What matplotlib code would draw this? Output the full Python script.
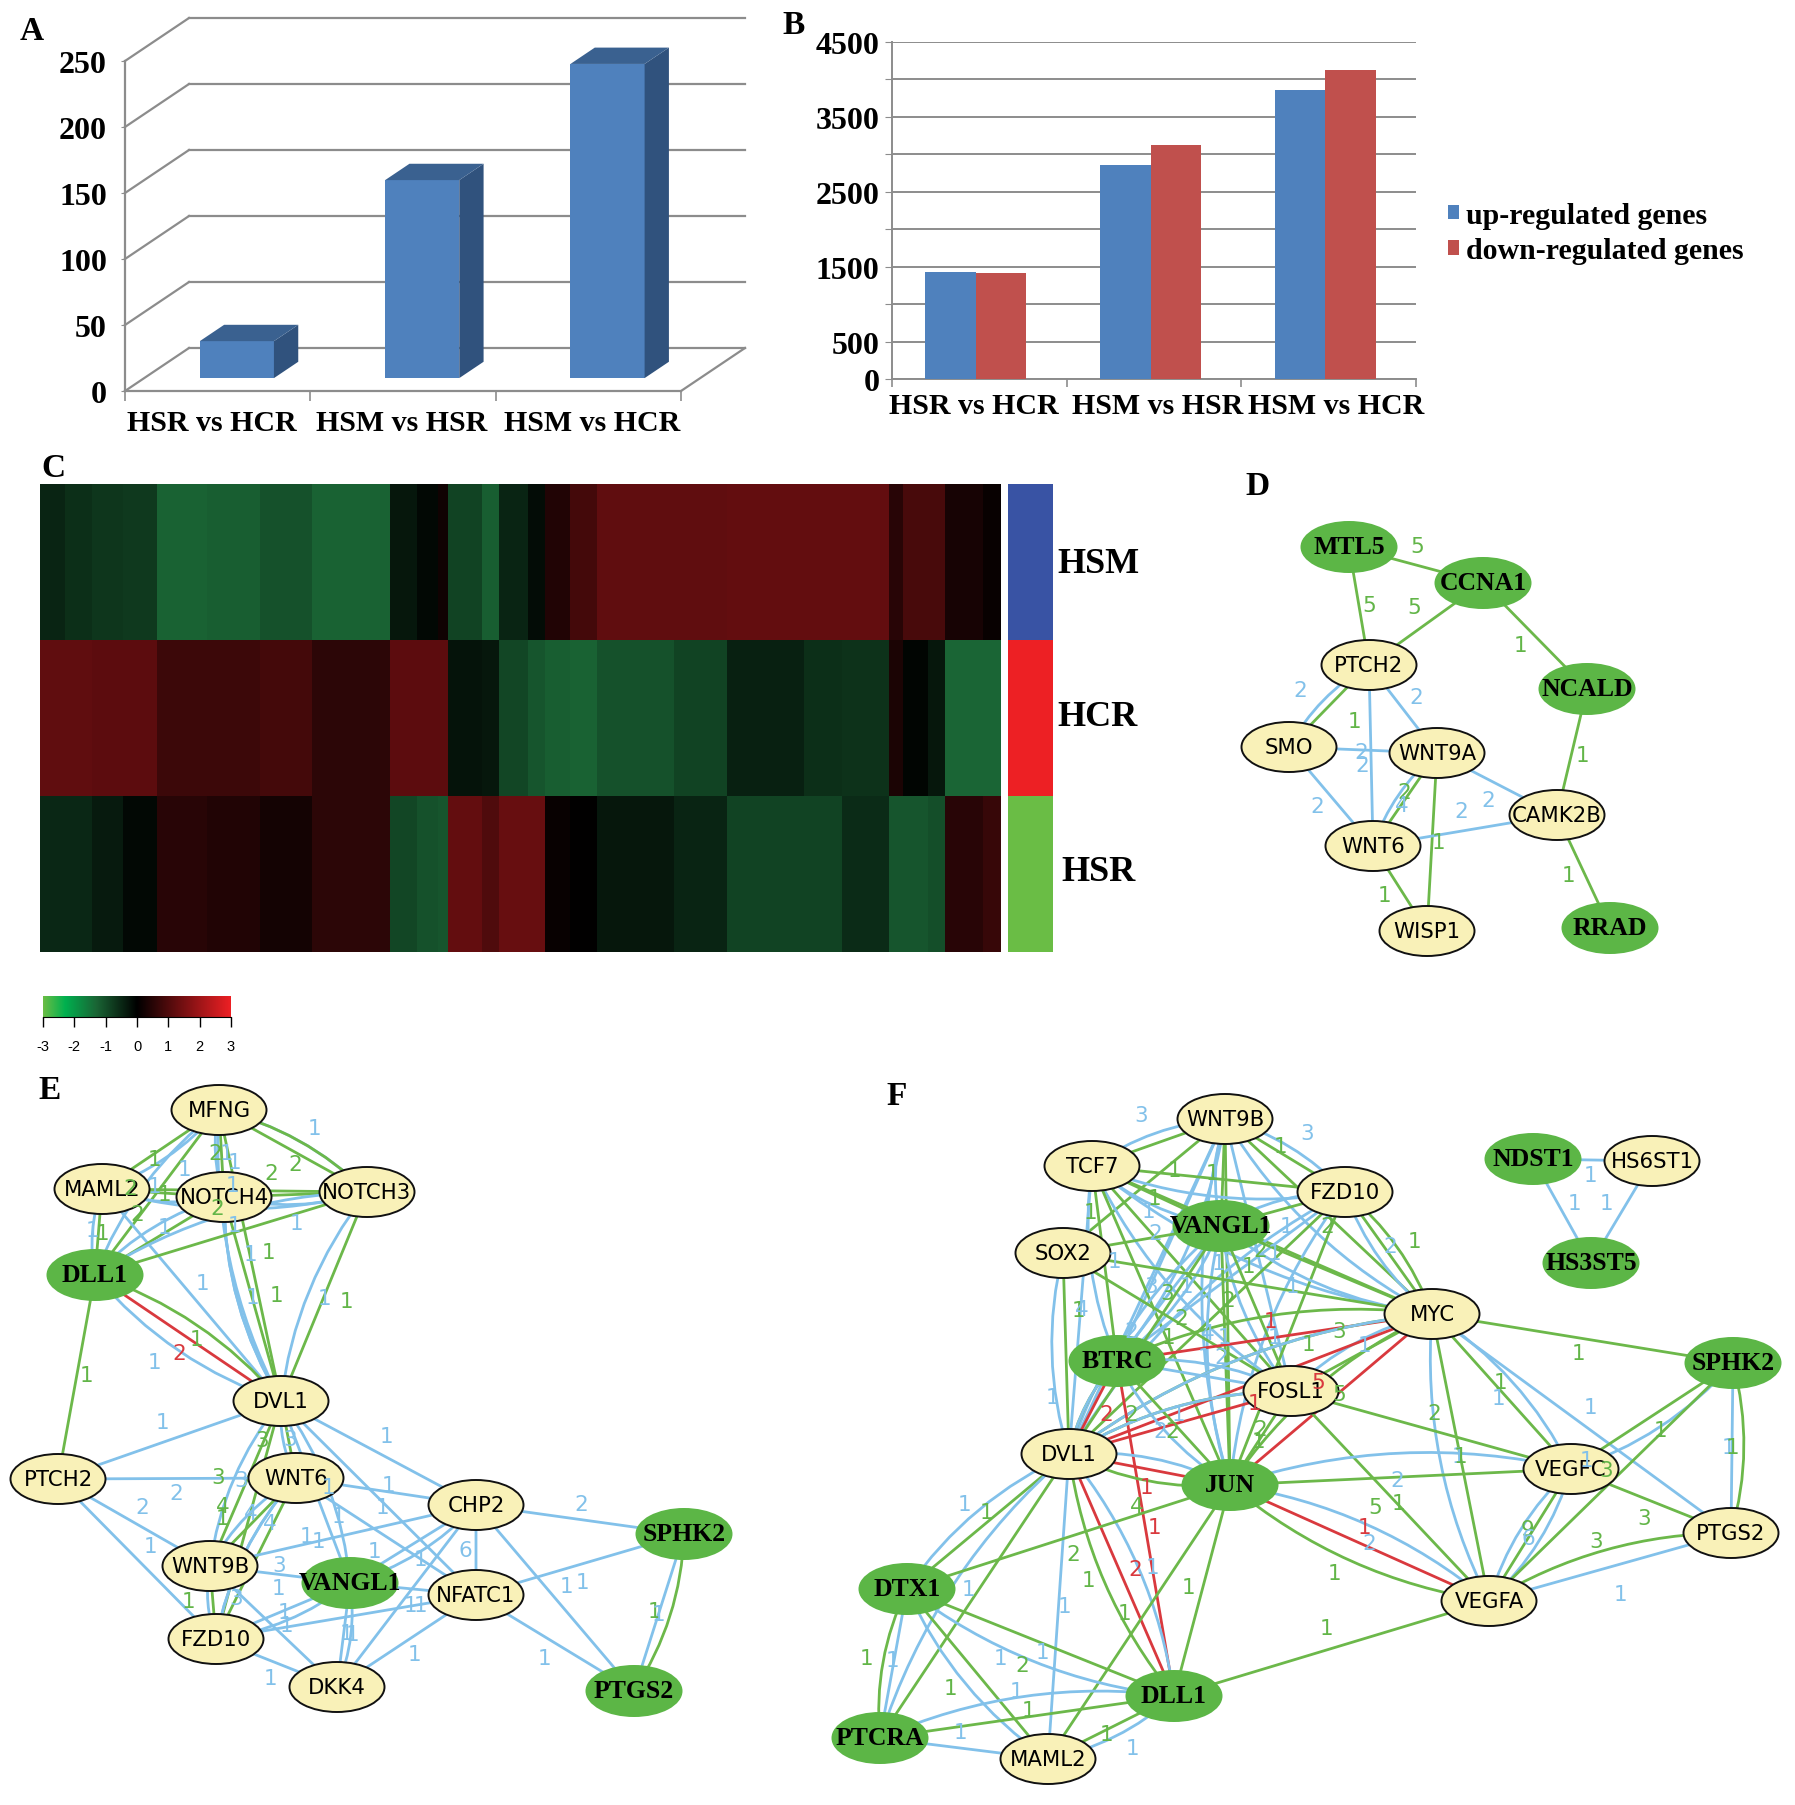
import matplotlib
matplotlib.use("Agg")
import matplotlib.pyplot as plt
import numpy as np
from matplotlib.colors import LinearSegmentedColormap
from matplotlib.patches import Ellipse, PathPatch, Polygon
from matplotlib.path import Path
from matplotlib.transforms import Affine2D, IdentityTransform

W, H = 1795, 1806
SERIF = "Liberation Serif"
plt.rcParams["axes.unicode_minus"] = False

# panel A / B
categories = ["HSR vs HCR", "HSM vs HSR", "HSM vs HCR"]
a_values = [28, 150, 238]
b_up = [1428, 2857, 3855]
b_down = [1413, 3118, 4132]

# panel C: one entry per stripe of the heat map
heat_widths = [33, 35, 40, 45, 65, 70, 68, 102, 35, 27, 13, 45, 22, 38, 22, 33, 35, 100, 70, 100, 50, 62, 18, 32, 23, 50, 23]
heat_hsm = [-0.45, -0.6, -0.7, -0.75, -1.25, -1.2, -1.05, -1.25, -0.3, -0.1, 0.2, -0.85, -1.2, -0.45, -0.15, 0.4, 0.85, 1.2, 1.2, 1.25, 1.25, 1.25, 0.5, 0.9, 0.9, 0.3, 0.1]
heat_hcr = [1.2, 1.2, 1.15, 1.15, 0.75, 0.75, 0.85, 0.55, 1.15, 1.15, 1.15, -0.25, -0.3, -0.9, -1.1, -1.2, -1.25, -1.05, -0.85, -0.4, -0.6, -0.65, 0.35, -0.05, -0.3, -1.3, -1.3]
heat_hsr = [-0.5, -0.5, -0.35, -0.1, 0.5, 0.4, 0.25, 0.55, -0.9, -1.05, -1.1, 1.25, 1.0, 1.3, 1.3, 0.1, 0.0, -0.3, -0.45, -0.85, -0.85, -0.55, -1.1, -1.1, -1.0, 0.5, 0.7]
heat_rows = ["HSM", "HCR", "HSR"]
row_colors = ["#3953a4", "#ed2024", "#6abd45"]

# networks: g = green, b = blue, r = red edge. A repeated pair is drawn bent.
d_edges = [("MTL5", "CCNA1", "g"), ("MTL5", "PTCH2", "g"), ("CCNA1", "PTCH2", "g"), ("CCNA1", "NCALD", "g"),
           ("NCALD", "CAMK2B", "g"), ("CAMK2B", "RRAD", "g"), ("PTCH2", "SMO", "g"), ("PTCH2", "SMO", "b"),
           ("PTCH2", "WNT9A", "b"), ("PTCH2", "WNT6", "b"), ("SMO", "WNT9A", "b"), ("SMO", "WNT6", "b"),
           ("WNT9A", "WNT6", "g"), ("WNT9A", "WNT6", "b"), ("WNT9A", "WISP1", "g"), ("WNT9A", "CAMK2B", "b"),
           ("WNT6", "CAMK2B", "b"), ("WNT6", "WISP1", "g")]
d_labels = [(1417, 546, "5", "g"), (1369, 605, "5", "g"), (1414, 607, "5", "g"), (1521, 645, "1", "g"),
            (1300, 690, "2", "b"), (1355, 721, "1", "g"), (1416, 697, "2", "b"), (1361, 752, "2", "b"),
            (1362, 765, "2", "b"), (1317, 806, "2", "b"), (1404, 792, "2", "g"), (1402, 805, "4", "b"),
            (1461, 811, "2", "b"), (1488, 800, "2", "b"), (1439, 842, "1", "g"), (1582, 755, "1", "g"),
            (1568, 875, "1", "g"), (1385, 895, "1", "g")]

e_edges = [("MFNG", "MAML2", "g"), ("MFNG", "NOTCH3", "g"), ("NOTCH3", "MFNG", "b"), ("MFNG", "NOTCH3", "g"),
           ("MFNG", "NOTCH4", "g"), ("MFNG", "NOTCH4", "b"), ("MFNG", "DLL1", "g"), ("MFNG", "DLL1", "b"),
           ("MFNG", "DVL1", "g"), ("MFNG", "DVL1", "b"), ("MAML2", "MFNG", "b"),
           ("MAML2", "NOTCH4", "g"), ("MAML2", "NOTCH4", "b"), ("MAML2", "NOTCH3", "g"), ("MAML2", "NOTCH3", "b"),
           ("MAML2", "DLL1", "g"), ("MAML2", "DLL1", "b"), ("MAML2", "DVL1", "b"),
           ("NOTCH4", "NOTCH3", "g"), ("NOTCH4", "NOTCH3", "b"), ("NOTCH4", "DLL1", "g"), ("NOTCH4", "DLL1", "b"),
           ("NOTCH4", "DVL1", "g"), ("NOTCH4", "DVL1", "b"), ("DVL1", "NOTCH4", "b"),
           ("NOTCH3", "DLL1", "g"), ("NOTCH3", "DLL1", "b"), ("NOTCH3", "DVL1", "g"), ("NOTCH3", "DVL1", "b"),
           ("DLL1", "DVL1", "r"), ("DVL1", "DLL1", "g"), ("DVL1", "DLL1", "b"), ("DLL1", "PTCH2", "g"),
           ("DVL1", "PTCH2", "b"), ("DVL1", "WNT6", "g"), ("DVL1", "WNT6", "b"), ("DVL1", "WNT9B", "g"),
           ("DVL1", "WNT9B", "b"), ("DVL1", "FZD10", "g"), ("DVL1", "VANGL1", "b"), ("VANGL1", "DVL1", "b"),
           ("DVL1", "CHP2", "b"), ("DVL1", "NFATC1", "b"),
           ("PTCH2", "WNT6", "b"), ("PTCH2", "WNT9B", "b"), ("PTCH2", "FZD10", "b"),
           ("WNT6", "WNT9B", "g"), ("WNT6", "WNT9B", "b"), ("WNT6", "FZD10", "g"), ("WNT6", "FZD10", "b"),
           ("FZD10", "WNT6", "b"), ("WNT6", "CHP2", "b"), ("WNT6", "NFATC1", "b"),
           ("CHP2", "WNT9B", "b"), ("CHP2", "VANGL1", "b"), ("VANGL1", "CHP2", "b"), ("CHP2", "NFATC1", "b"),
           ("CHP2", "DKK4", "b"), ("CHP2", "SPHK2", "b"), ("CHP2", "PTGS2", "b"),
           ("WNT9B", "VANGL1", "b"), ("WNT9B", "FZD10", "g"), ("WNT9B", "FZD10", "b"), ("WNT9B", "DKK4", "b"),
           ("VANGL1", "FZD10", "b"), ("FZD10", "VANGL1", "b"), ("VANGL1", "NFATC1", "b"), ("VANGL1", "DKK4", "b"),
           ("DKK4", "VANGL1", "b"), ("NFATC1", "FZD10", "b"), ("NFATC1", "DKK4", "b"), ("NFATC1", "SPHK2", "b"),
           ("NFATC1", "PTGS2", "b"), ("FZD10", "DKK4", "b"), ("SPHK2", "PTGS2", "b"), ("PTGS2", "SPHK2", "g")]
e_labels = [(315, 1126, "1", "b"), (155, 1157, "1", "g"), (215, 1151, "2", "g"), (226, 1151, "1", "b"),
            (235, 1160, "1", "b"), (295, 1162, "2", "g"), (271, 1171, "2", "g"), (184, 1167, "1", "b"),
            (130, 1186, "2", "g"), (155, 1184, "1", "b"), (164, 1192, "1", "g"), (233, 1183, "1", "b"),
            (137, 1212, "2", "g"), (217, 1206, "2", "g"), (234, 1223, "1", "b"), (92, 1228, "1", "b"),
            (103, 1231, "1", "g"), (164, 1225, "1", "b"), (296, 1221, "1", "b"), (251, 1252, "1", "b"),
            (268, 1250, "1", "g"), (203, 1281, "1", "b"), (253, 1295, "1", "b"), (276, 1293, "1", "g"),
            (325, 1296, "1", "b"), (347, 1299, "1", "g"), (196, 1337, "1", "g"), (179, 1351, "2", "r"),
            (154, 1360, "1", "b"), (86, 1373, "1", "g"), (163, 1420, "1", "b"), (262, 1438, "3", "g"),
            (290, 1437, "3", "b"), (386, 1434, "1", "b"), (218, 1475, "3", "g"), (241, 1478, "3", "b"),
            (176, 1491, "2", "b"), (328, 1485, "1", "b"), (389, 1483, "1", "b"), (142, 1505, "2", "b"),
            (223, 1504, "4", "g"), (223, 1516, "1", "g"), (251, 1511, "4", "b"), (270, 1521, "4", "b"),
            (339, 1514, "1", "b"), (383, 1505, "1", "b"), (307, 1534, "1", "b"), (319, 1539, "1", "b"),
            (150, 1544, "1", "b"), (374, 1549, "1", "b"), (420, 1557, "1", "b"), (465, 1548, "6", "b"),
            (581, 1502, "2", "b"), (279, 1563, "3", "b"), (278, 1586, "1", "b"), (236, 1596, "3", "b"),
            (188, 1599, "1", "g"), (284, 1610, "1", "b"), (287, 1623, "1", "b"), (410, 1603, "1", "b"),
            (420, 1603, "1", "b"), (567, 1584, "1", "b"), (583, 1580, "1", "b"), (347, 1631, "1", "b"),
            (353, 1632, "1", "b"), (414, 1652, "1", "b"), (544, 1656, "1", "b"), (270, 1676, "1", "b"),
            (655, 1609, "1", "g"), (659, 1612, "1", "b")]

f_edges = [("WNT9B", "TCF7", "g"), ("WNT9B", "TCF7", "b"), ("WNT9B", "FZD10", "g"), ("FZD10", "WNT9B", "b"),
           ("WNT9B", "VANGL1", "g"), ("WNT9B", "VANGL1", "b"), ("WNT9B", "SOX2", "g"), ("WNT9B", "MYC", "g"),
           ("WNT9B", "MYC", "b"), ("WNT9B", "BTRC", "b"), ("BTRC", "WNT9B", "b"), ("WNT9B", "FOSL1", "b"),
           ("WNT9B", "JUN", "g"), ("WNT9B", "JUN", "b"), ("WNT9B", "DVL1", "b"),
           ("TCF7", "FZD10", "g"), ("TCF7", "FZD10", "b"), ("TCF7", "VANGL1", "g"), ("TCF7", "VANGL1", "b"),
           ("TCF7", "MYC", "g"), ("TCF7", "MYC", "b"), ("TCF7", "BTRC", "g"), ("TCF7", "BTRC", "b"),
           ("TCF7", "FOSL1", "g"), ("TCF7", "FOSL1", "b"), ("TCF7", "JUN", "g"), ("TCF7", "DVL1", "b"),
           ("FZD10", "VANGL1", "g"), ("FZD10", "VANGL1", "b"), ("FZD10", "MYC", "g"), ("MYC", "FZD10", "g"),
           ("MYC", "FZD10", "b"), ("FZD10", "BTRC", "b"), ("FZD10", "DVL1", "g"), ("FZD10", "DVL1", "b"),
           ("FZD10", "JUN", "g"), ("FZD10", "JUN", "b"),
           ("VANGL1", "SOX2", "g"), ("VANGL1", "MYC", "g"), ("VANGL1", "MYC", "b"), ("VANGL1", "BTRC", "b"),
           ("BTRC", "VANGL1", "b"), ("VANGL1", "DVL1", "g"), ("VANGL1", "DVL1", "b"), ("VANGL1", "JUN", "g"),
           ("VANGL1", "JUN", "b"), ("VANGL1", "FOSL1", "g"), ("VANGL1", "FOSL1", "b"),
           ("SOX2", "MYC", "g"), ("SOX2", "FOSL1", "g"), ("SOX2", "DVL1", "g"), ("SOX2", "DVL1", "b"),
           ("MYC", "BTRC", "r"), ("MYC", "BTRC", "g"), ("MYC", "FOSL1", "g"), ("MYC", "FOSL1", "b"),
           ("MYC", "DVL1", "r"), ("MYC", "DVL1", "g"), ("DVL1", "MYC", "b"), ("MYC", "JUN", "r"), ("MYC", "JUN", "g"),
           ("MYC", "SPHK2", "g"), ("MYC", "VEGFC", "g"), ("VEGFC", "MYC", "b"), ("MYC", "VEGFA", "g"),
           ("MYC", "VEGFA", "b"), ("MYC", "PTGS2", "b"),
           ("BTRC", "DVL1", "r"), ("BTRC", "DVL1", "g"), ("DVL1", "BTRC", "b"), ("BTRC", "DLL1", "r"),
           ("BTRC", "FOSL1", "b"), ("FOSL1", "BTRC", "b"), ("BTRC", "JUN", "g"), ("BTRC", "JUN", "b"),
           ("FOSL1", "DVL1", "r"), ("FOSL1", "DVL1", "g"), ("DVL1", "FOSL1", "b"), ("FOSL1", "JUN", "g"),
           ("FOSL1", "VEGFC", "g"), ("FOSL1", "VEGFA", "g"),
           ("DVL1", "JUN", "r"), ("DVL1", "JUN", "g"), ("DVL1", "JUN", "b"), ("DVL1", "DTX1", "g"),
           ("DVL1", "DTX1", "b"), ("DVL1", "PTCRA", "g"), ("DVL1", "PTCRA", "b"), ("DVL1", "DLL1", "r"),
           ("DVL1", "DLL1", "g"), ("DVL1", "DLL1", "b"), ("DVL1", "MAML2", "b"),
           ("JUN", "VEGFC", "g"), ("VEGFC", "JUN", "b"), ("JUN", "VEGFA", "r"), ("JUN", "VEGFA", "g"),
           ("JUN", "VEGFA", "b"), ("JUN", "DTX1", "g"), ("JUN", "DLL1", "g"), ("JUN", "MAML2", "g"),
           ("VEGFC", "VEGFA", "g"), ("VEGFC", "VEGFA", "b"), ("VEGFC", "VEGFA", "b"), ("VEGFC", "SPHK2", "g"),
           ("VEGFC", "SPHK2", "b"), ("VEGFC", "PTGS2", "g"), ("VEGFA", "SPHK2", "g"), ("VEGFA", "PTGS2", "b"),
           ("PTGS2", "VEGFA", "g"), ("SPHK2", "PTGS2", "b"), ("PTGS2", "SPHK2", "g"), ("VEGFA", "DLL1", "g"),
           ("DTX1", "PTCRA", "b"), ("DTX1", "PTCRA", "g"), ("DTX1", "DLL1", "g"), ("DTX1", "DLL1", "b"),
           ("DTX1", "MAML2", "g"), ("DTX1", "MAML2", "b"), ("PTCRA", "DLL1", "g"), ("DLL1", "PTCRA", "b"),
           ("PTCRA", "MAML2", "b"), ("MAML2", "DLL1", "g"), ("MAML2", "DLL1", "b"),
           ("NDST1", "HS6ST1", "b"), ("NDST1", "HS3ST5", "b"), ("HS6ST1", "HS3ST5", "b")]
f_labels = [(1141, 1113, "3", "b"), (1307, 1131, "3", "b"), (1280, 1144, "1", "g"), (1174, 1168, "1", "g"),
            (1213, 1171, "1", "g"), (1154, 1196, "1", "g"), (1090, 1210, "1", "g"), (1148, 1209, "1", "b"),
            (1155, 1231, "2", "b"), (1286, 1224, "1", "b"), (1327, 1224, "2", "g"), (1390, 1244, "2", "b"),
            (1414, 1239, "1", "g"), (1114, 1259, "1", "b"), (1260, 1248, "2", "g"), (1275, 1251, "1", "b"),
            (1248, 1264, "1", "g"), (1219, 1261, "1", "b"), (1151, 1284, "3", "b"), (1167, 1291, "3", "g"),
            (1186, 1284, "1", "b"), (1078, 1308, "1", "g"), (1082, 1307, "4", "b"), (1292, 1284, "1", "b"),
            (1228, 1298, "2", "g"), (1181, 1316, "2", "g"), (1271, 1319, "1", "r"), (1339, 1329, "3", "g"),
            (1169, 1335, "1", "g"), (1208, 1331, "4", "b"), (1225, 1335, "1", "b"), (1275, 1335, "1", "b"),
            (1309, 1342, "1", "g"), (1364, 1343, "1", "b"), (1578, 1351, "1", "g"), (1591, 1405, "1", "b"),
            (1501, 1380, "1", "g"), (1499, 1396, "1", "b"), (1052, 1395, "1", "b"), (1131, 1329, "2", "b"),
            (1205, 1355, "1", "b"), (1221, 1355, "2", "b"), (1318, 1380, "5", "r"), (1255, 1401, "1", "r"),
            (1339, 1392, "5", "g"), (1106, 1412, "2", "r"), (1131, 1412, "2", "g"), (1179, 1412, "1", "b"),
            (1160, 1429, "2", "b"), (1172, 1429, "2", "g"), (1260, 1427, "2", "g"), (1259, 1439, "1", "g"),
            (1434, 1411, "2", "g"), (1660, 1428, "1", "g"), (1729, 1445, "1", "b"), (1732, 1445, "1", "g"),
            (1458, 1454, "1", "b"), (1461, 1454, "1", "g"), (1397, 1478, "2", "b"), (1375, 1505, "5", "g"),
            (1399, 1501, "1", "g"), (1146, 1485, "1", "r"), (1586, 1458, "1", "b"), (1606, 1468, "3", "g"),
            (1644, 1516, "3", "g"), (1596, 1539, "3", "g"), (1528, 1527, "9", "g"), (1528, 1536, "6", "b"),
            (964, 1502, "1", "b"), (987, 1510, "1", "g"), (1137, 1504, "4", "g"), (1155, 1525, "1", "r"),
            (1365, 1525, "1", "r"), (1369, 1541, "2", "b"), (1073, 1552, "2", "g"), (1135, 1567, "2", "r"),
            (1153, 1565, "1", "b"), (1088, 1578, "1", "g"), (1188, 1585, "1", "g"), (1335, 1571, "1", "g"),
            (968, 1587, "1", "b"), (1065, 1604, "1", "b"), (1124, 1611, "1", "g"), (1326, 1626, "1", "g"),
            (1621, 1592, "1", "b"), (867, 1656, "1", "g"), (892, 1658, "1", "b"), (1000, 1656, "1", "b"),
            (1022, 1663, "2", "g"), (1042, 1650, "1", "b"), (951, 1686, "1", "g"), (1017, 1689, "1", "b"),
            (1029, 1708, "1", "g"), (961, 1730, "1", "b"), (1106, 1732, "1", "g"), (1133, 1746, "1", "b"),
            (1591, 1173, "1", "b"), (1575, 1201, "1", "b"), (1606, 1201, "1", "b")]

d_seed = ["MTL5", "CCNA1", "NCALD", "RRAD"]
e_seed = ["DLL1", "SPHK2", "VANGL1", "PTGS2"]
f_seed = ["VANGL1", "BTRC", "JUN", "SPHK2", "DTX1", "DLL1", "PTCRA", "NDST1", "HS3ST5"]

# layouts in image pixels
d_pos = {"MTL5": (1349, 547), "CCNA1": (1483, 583), "PTCH2": (1369, 665), "NCALD": (1587, 689), "SMO": (1289, 747),
         "WNT9A": (1437, 753), "CAMK2B": (1557, 815), "WNT6": (1373, 846), "WISP1": (1427, 931), "RRAD": (1610, 928)}
e_pos = {"MFNG": (219, 1108), "MAML2": (102, 1187), "NOTCH4": (224, 1195), "NOTCH3": (367, 1190), "DLL1": (95, 1273),
         "DVL1": (281, 1399), "PTCH2": (58, 1477), "WNT6": (296, 1476), "CHP2": (476, 1503), "SPHK2": (684, 1532),
         "WNT9B": (210, 1564), "VANGL1": (350, 1581), "NFATC1": (476, 1593), "FZD10": (216, 1637), "DKK4": (337, 1685),
         "PTGS2": (634, 1689)}
f_pos = {"WNT9B": (1225, 1117), "TCF7": (1092, 1164), "FZD10": (1345, 1190), "VANGL1": (1221, 1224), "SOX2": (1063, 1251),
         "MYC": (1432, 1312), "BTRC": (1117, 1359), "FOSL1": (1291, 1389), "DVL1": (1069, 1452), "JUN": (1230, 1483),
         "SPHK2": (1733, 1361), "VEGFC": (1571, 1467), "PTGS2": (1731, 1531), "VEGFA": (1489, 1599), "DTX1": (907, 1587),
         "DLL1": (1174, 1694), "PTCRA": (880, 1736), "MAML2": (1048, 1757), "NDST1": (1533, 1157), "HS6ST1": (1652, 1159),
         "HS3ST5": (1591, 1261)}

EDGE_COLORS = {"g": "#6cb84a", "b": "#82c1ea", "r": "#d9393e"}
LABEL_COLORS = {"g": "#62b548", "b": "#82c1ea", "r": "#d9393e"}
BENDS = [0.0, 0.14, -0.14, 0.25]

fig = plt.figure(figsize=(W / 100, H / 100), dpi=100)


def pixel_axes(left, top, right, bottom):
    return fig.add_axes([left / W, 1 - bottom / H, (right - left) / W, (bottom - top) / H])


# --- A: fake 3D column chart
ax_a = pixel_axes(125, 62, 681, 392)
ax_a.set_xlim(0, 3)
ax_a.set_ylim(0, 250)
GRID = "#8c8c8c"
DEPTH_X, DEPTH_Y = 64, 43
back = ax_a.transData + Affine2D().translate(DEPTH_X, DEPTH_Y)
ax_a.patch.set_visible(False)


def in_depth(x, y, frac):
    px, py = ax_a.transData.transform((x, y))
    return px + DEPTH_X * frac, py + DEPTH_Y * frac


for v in range(0, 251, 50):
    ax_a.plot([0, 3], [v, v], color=GRID, lw=1.6, transform=back, clip_on=False, zorder=1)
    p0, p1 = in_depth(0, v, 0), in_depth(0, v, 1)
    ax_a.plot([p0[0], p1[0]], [p0[1], p1[1]], color=GRID, lw=1.6, transform=IdentityTransform(), clip_on=False, zorder=1)
p0, p1 = in_depth(3, 0, 0), in_depth(3, 0, 1)
ax_a.plot([p0[0], p1[0]], [p0[1], p1[1]], color=GRID, lw=1.6, transform=IdentityTransform(), clip_on=False, zorder=1)

FRONT, BACK = 0.3, 0.68
BAR_W = 0.4
a_x = np.arange(3) + 0.5
front = ax_a.transData + Affine2D().translate(DEPTH_X * FRONT, DEPTH_Y * FRONT)
ax_a.bar(a_x, a_values, BAR_W, color="#4f81bd", transform=front, clip_on=False, zorder=3)
for x, v in zip(a_x, a_values):
    r, l = x + BAR_W / 2, x - BAR_W / 2
    side = [in_depth(r, 0, FRONT), in_depth(r, v, FRONT), in_depth(r, v, BACK), in_depth(r, 0, BACK)]
    top = [in_depth(l, v, FRONT), in_depth(r, v, FRONT), in_depth(r, v, BACK), in_depth(l, v, BACK)]
    ax_a.add_patch(Polygon(side, color="#30527d", lw=0, transform=IdentityTransform(), clip_on=False, zorder=3))
    ax_a.add_patch(Polygon(top, color="#3a6190", lw=0, transform=IdentityTransform(), clip_on=False, zorder=3))

for name in ["top", "right"]:
    ax_a.spines[name].set_visible(False)
for name in ["left", "bottom"]:
    ax_a.spines[name].set_color(GRID)
    ax_a.spines[name].set_linewidth(1.6)
ax_a.set_yticks(range(0, 251, 50))
ax_a.set_xticks([0, 1, 2, 3])
ax_a.set_xticklabels([])
ax_a.set_xticks([0.47, 1.49, 2.52], categories, minor=True, fontfamily=SERIF, fontweight="bold", fontsize=21.5)
ax_a.tick_params(axis="x", which="major", length=7, color=GRID, width=1.2)
ax_a.tick_params(axis="x", which="minor", length=0, pad=13)
ax_a.tick_params(axis="y", length=3, color=GRID, pad=10)
for t in ax_a.get_yticklabels():
    t.set_fontfamily(SERIF)
    t.set_fontweight("bold")
    t.set_fontsize(23)

# --- B: grouped columns
ax_b = pixel_axes(892, 43, 1416, 380)
b_x = np.arange(3) + 0.48
b_w = 0.29
h_up = ax_b.bar(b_x - b_w / 2, b_up, b_w, color="#4f81bd", zorder=3, label="up-regulated genes")
h_down = ax_b.bar(b_x + b_w / 2, b_down, b_w, color="#c0504d", zorder=3, label="down-regulated genes")
ax_b.set_xlim(0, 3)
ax_b.set_ylim(0, 4500)
ax_b.set_yticks(range(0, 4501, 500))
ax_b.set_yticklabels(["0", "500", "", "1500", "", "2500", "", "3500", "", "4500"], fontfamily=SERIF,
                     fontweight="bold", fontsize=23)
ax_b.yaxis.grid(True, color=GRID, lw=1.4, zorder=0)
ax_b.set_axisbelow(True)
ax_b.set_xticks([0, 1, 2, 3])
ax_b.set_xticklabels([])
ax_b.set_xticks([0.47, 1.52, 2.54], categories, minor=True, fontfamily=SERIF, fontweight="bold", fontsize=21.5)
ax_b.tick_params(axis="x", which="major", length=6, color=GRID, width=1.2)
ax_b.tick_params(axis="x", which="minor", length=0, pad=9)
ax_b.tick_params(axis="y", length=5, color=GRID, pad=4)
for name in ["top", "right"]:
    ax_b.spines[name].set_visible(False)
for name in ["left", "bottom"]:
    ax_b.spines[name].set_color(GRID)
    ax_b.spines[name].set_linewidth(1.4)
fig.legend(handles=[h_up, h_down], loc="upper left", bbox_to_anchor=(1448 / W, 1 - 203 / H), frameon=False,
           borderpad=0, borderaxespad=0, handlelength=0.36, handleheight=0.36, handletextpad=0.25, labelspacing=0.27,
           prop={"family": SERIF, "weight": "bold", "size": 21.5})

# --- C: heat map
heat_cmap = LinearSegmentedColormap.from_list(
    "gbr", [(0, "#6abd45"), (0.117, "#00b04f"), (0.283, "#1a6535"), (0.5, "#000000"), (1, "#ed2024")])
ax_c = pixel_axes(40, 485, 1001, 953)
heat = np.array([heat_hsm, heat_hcr, heat_hsr])
col_edges = np.concatenate([[0], np.cumsum(heat_widths)])
ax_c.pcolormesh(col_edges, np.arange(4), heat, cmap=heat_cmap, vmin=-3, vmax=3)
ax_c.invert_yaxis()
ax_c.axis("off")

ax_side = pixel_axes(1008, 485, 1053, 953)
for i, c in enumerate(row_colors):
    ax_side.barh(i + 0.5, 1, 1, color=c)
ax_side.set_xlim(0, 1)
ax_side.set_ylim(3, 0)
ax_side.axis("off")

ax_cb = pixel_axes(43, 997, 231, 1018)
ax_cb.imshow(np.linspace(-3, 3, 256)[None, :], cmap=heat_cmap, vmin=-3, vmax=3, aspect="auto", extent=(-3, 3, 0, 1))
ax_cb.set_yticks([])
ax_cb.set_xticks(range(-3, 4))
ax_cb.tick_params(axis="x", length=7, width=1, pad=9, labelsize=10.5)
for t in ax_cb.get_xticklabels():
    t.set_fontfamily("Liberation Sans")
for name in ["top", "left", "right"]:
    ax_cb.spines[name].set_visible(False)

# --- D, E, F: networks, drawn on one overlay in image pixels
net = fig.add_axes([0, 0, 1, 1])
net.set_xlim(0, W)
net.set_ylim(H, 0)
net.axis("off")
net.patch.set_visible(False)


def draw_network(edges, labels, pos, seeds, dy):
    seen = {}
    for a, b, kind in edges:
        pair = frozenset((a, b))
        n = seen.get(pair, 0)
        seen[pair] = n + 1
        (x0, y0), (x1, y1) = pos[a], pos[b]
        bend = BENDS[n % len(BENDS)]
        cx = (x0 + x1) / 2 - (y1 - y0) * bend
        cy = (y0 + y1) / 2 + (x1 - x0) * bend + dy
        path = Path([(x0, y0 + dy), (cx, cy), (x1, y1 + dy)], [Path.MOVETO, Path.CURVE3, Path.CURVE3])
        net.add_patch(PathPatch(path, fc="none", ec=EDGE_COLORS[kind], lw=2.0, zorder=2))
    for name, (x, y) in pos.items():
        y = y + dy
        if name in seeds:
            net.add_patch(Ellipse((x, y), 97, 52, fc="#5cb646", ec="none", zorder=3))
            net.text(x, y, name, ha="center", va="center", family=SERIF, weight="bold", fontsize=18.5, zorder=5)
        else:
            net.add_patch(Ellipse((x, y), 95, 50, fc="#f9f1b8", ec="#111111", lw=1.4, zorder=3))
            net.text(x, y, name, ha="center", va="center", family="DejaVu Sans", fontsize=15.3, zorder=5)
    for x, y, txt, kind in labels:
        net.text(x, y + dy, txt, ha="center", va="center", color=LABEL_COLORS[kind], family="DejaVu Sans",
                 fontsize=15.5, zorder=6)


draw_network(d_edges, d_labels, d_pos, d_seed, 1)
draw_network(e_edges, e_labels, e_pos, e_seed, 3)
draw_network(f_edges, f_labels, f_pos, f_seed, 3)

# row names and panel letters
for name, y in zip(heat_rows, [565, 718, 873]):
    net.text(1098, y, name, ha="center", va="center", family=SERIF, weight="bold", fontsize=26)
for letter, x, y in [("A", 32, 32), ("B", 794, 26), ("C", 53, 469), ("D", 1257, 487), ("E", 50, 1091), ("F", 897, 1097)]:
    net.text(x, y, letter, ha="center", va="center", family=SERIF, weight="bold", fontsize=24)

fig.savefig("out.png", dpi=100)
